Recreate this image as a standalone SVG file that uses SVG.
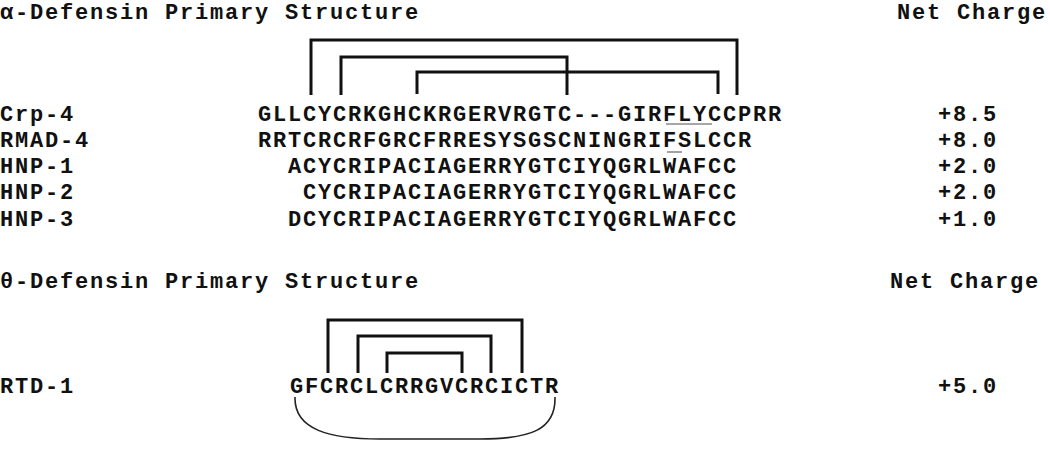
<svg xmlns="http://www.w3.org/2000/svg" width="1050" height="452" viewBox="0 0 1050 452">
<style>
text{font-family:"Liberation Mono","Courier New",monospace;font-weight:bold;font-size:22px;letter-spacing:1.8px;fill:#111}
.br{fill:none;stroke:#111;stroke-width:3}
.ul{stroke:#8a8a8a;stroke-width:1.6}
.loop{fill:none;stroke:#222;stroke-width:1.6}
</style>
<rect width="1050" height="452" fill="#fff"/>
<g id="alpha-header">
<text x="0" y="19">α-Defensin Primary Structure</text>
<text x="897" y="19">Net Charge</text>
</g>
<g id="connectors">
<path class="br" d="M311,95 V40 H737 V95"/>
<path class="br" d="M341,95 V57 H567 V95"/>
<path class="br" d="M417,94 V72 H718 V94"/>
<path class="br" d="M328,373 V320 H522 V373"/>
<path class="br" d="M358,373 V336 H491 V373"/>
<path class="br" d="M387,373 V353 H462 V373"/>
<path class="loop" d="M295,397 C294,430 330,439 380,439 L480,439 C530,439 556,430 555,397"/>
<line class="ul" x1="666" y1="124" x2="712" y2="124"/>
<line class="ul" x1="667" y1="152" x2="682" y2="152"/>
</g>
<g id="crp4">
<text x="0" y="121">Crp-4</text>
<text x="258" y="121">GLLCYCRKGHCKRGERVRGTC---GIRFLYCCPRR</text>
<text x="938" y="121">+8.5</text>
</g>
<g id="rmad4">
<text x="0" y="147">RMAD-4</text>
<text x="258" y="147">RRTCRCRFGRCFRRESYSGSCNINGRIFSLCCR</text>
<text x="938" y="147">+8.0</text>
</g>
<g id="hnp1">
<text x="0" y="173">HNP-1</text>
<text x="288" y="173">ACYCRIPACIAGERRYGTCIYQGRLWAFCC</text>
<text x="938" y="173">+2.0</text>
</g>
<g id="hnp2">
<text x="0" y="199">HNP-2</text>
<text x="303" y="199">CYCRIPACIAGERRYGTCIYQGRLWAFCC</text>
<text x="938" y="199">+2.0</text>
</g>
<g id="hnp3">
<text x="0" y="226">HNP-3</text>
<text x="288" y="226">DCYCRIPACIAGERRYGTCIYQGRLWAFCC</text>
<text x="938" y="226">+1.0</text>
</g>
<g id="theta-header">
<text x="0" y="288">θ-Defensin Primary Structure</text>
<text x="890" y="288">Net Charge</text>
</g>
<g id="rtd1">
<text x="0" y="393">RTD-1</text>
<text x="290" y="393">GFCRCLCRRGVCRCICTR</text>
<text x="938" y="393">+5.0</text>
</g>
</svg>
